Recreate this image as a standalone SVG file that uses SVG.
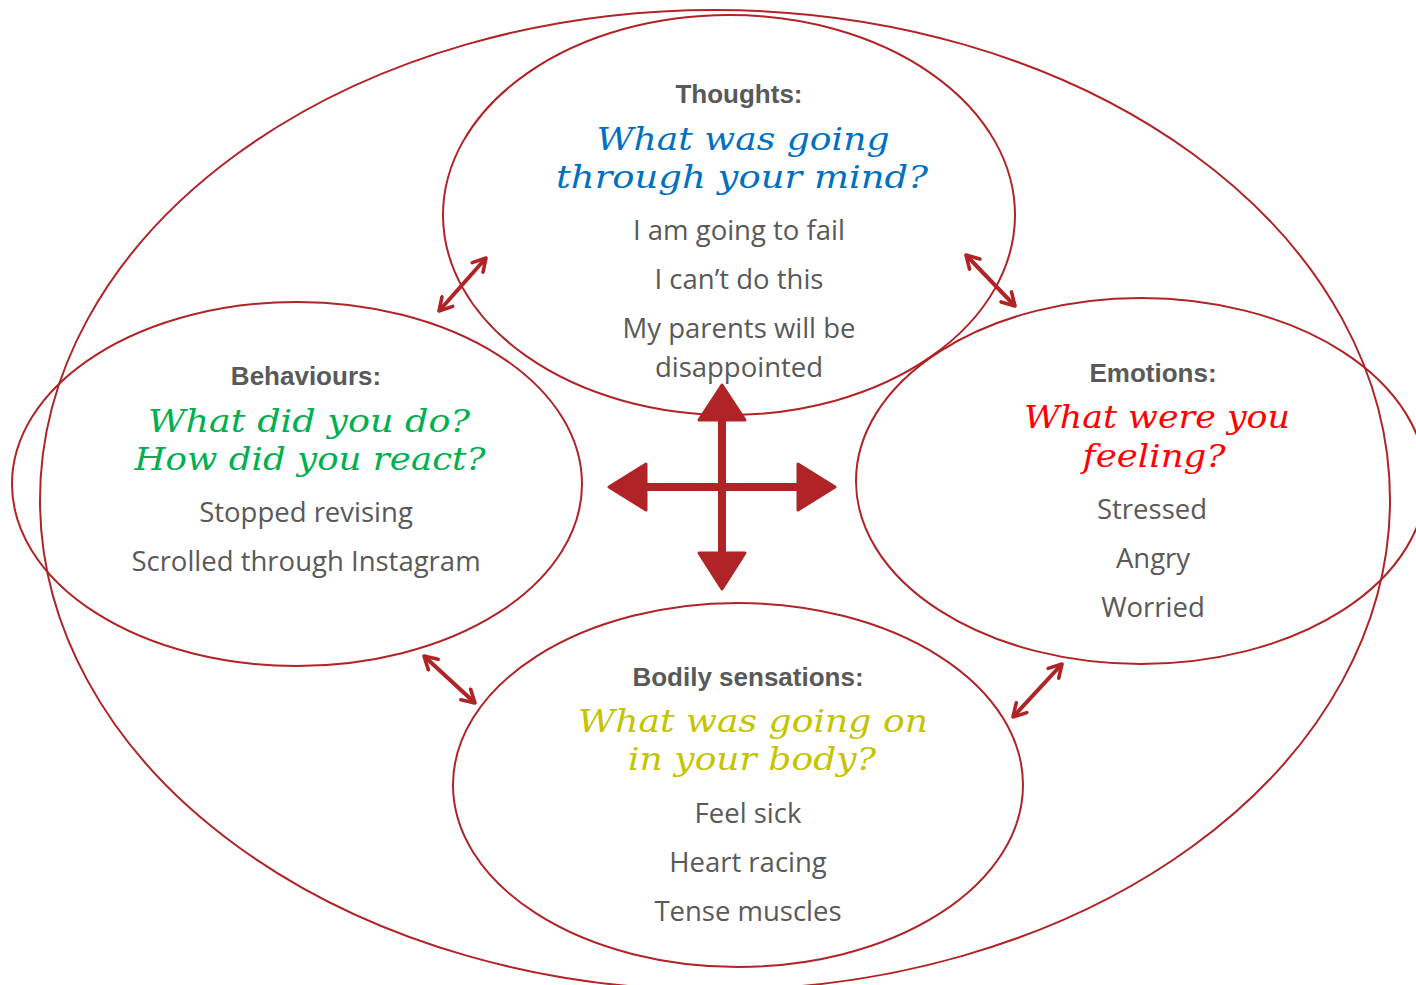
<svg xmlns="http://www.w3.org/2000/svg" width="1416" height="985" viewBox="0 0 1416 985">
<style>
.ring{fill:none;stroke:#B02326;stroke-width:2}
.hd{font-family:"Liberation Sans",Arial,sans-serif;font-weight:bold;font-size:26px;fill:#595959;text-anchor:middle}
.sc{font-family:"DejaVu Serif","Liberation Serif",serif;font-style:italic;font-size:31px;text-anchor:middle}
.tx{font-family:"Open Sans","Liberation Sans",sans-serif;font-size:27.5px;fill:#595959;text-anchor:middle}
.dbl{stroke:#B02326;stroke-width:4;fill:none;marker-start:url(#op);marker-end:url(#op)}
</style>
<defs>
<marker id="op" viewBox="0 0 10 10" refX="9" refY="5" markerWidth="4.5" markerHeight="4.5" orient="auto-start-reverse" markerUnits="strokeWidth">
<polyline points="2,1 9,5 2,9" fill="none" stroke="#B02326" stroke-width="2" stroke-linecap="round" stroke-linejoin="round"/>
</marker>
</defs>
<rect width="1416" height="985" fill="#fff"/>
<g id="outer"><ellipse class="ring" cx="715" cy="500" rx="675" ry="490"/></g>
<g id="thoughts">
<ellipse class="ring" cx="729" cy="215" rx="286" ry="200"/>
<text class="hd" x="739" y="103">Thoughts:</text>
<text class="sc" x="743" y="150" fill="#0070C0" textLength="293" lengthAdjust="spacingAndGlyphs">What was going</text>
<text class="sc" x="742" y="188" fill="#0070C0" textLength="372" lengthAdjust="spacingAndGlyphs">through your mind?</text>
<text class="tx" x="739" y="240">I am going to fail</text>
<text class="tx" x="739" y="289">I can’t do this</text>
<text class="tx" x="739" y="338">My parents will be</text>
<text class="tx" x="739" y="377">disappointed</text>
</g>
<g id="behaviours">
<ellipse class="ring" cx="297" cy="484" rx="285" ry="182"/>
<text class="hd" x="306" y="385">Behaviours:</text>
<text class="sc" x="309" y="432" fill="#00B050" textLength="322" lengthAdjust="spacingAndGlyphs">What did you do?</text>
<text class="sc" x="310" y="470" fill="#00B050" textLength="351" lengthAdjust="spacingAndGlyphs">How did you react?</text>
<text class="tx" x="306" y="522">Stopped revising</text>
<text class="tx" x="306" y="571">Scrolled through Instagram</text>
</g>
<g id="emotions">
<ellipse class="ring" cx="1141" cy="481" rx="285" ry="183"/>
<text class="hd" x="1153" y="382">Emotions:</text>
<text class="sc" x="1157" y="428" fill="#FF0000" textLength="266" lengthAdjust="spacingAndGlyphs">What were you</text>
<text class="sc" x="1154" y="467" fill="#FF0000" textLength="143" lengthAdjust="spacingAndGlyphs">feeling?</text>
<text class="tx" x="1152" y="519">Stressed</text>
<text class="tx" x="1153" y="568">Angry</text>
<text class="tx" x="1153" y="617">Worried</text>
</g>
<g id="bodily">
<ellipse class="ring" cx="738" cy="785" rx="285" ry="182"/>
<text class="hd" x="748" y="686">Bodily sensations:</text>
<text class="sc" x="753" y="732" fill="#C4C400" textLength="350" lengthAdjust="spacingAndGlyphs">What was going on</text>
<text class="sc" x="752" y="770" fill="#C4C400" textLength="248" lengthAdjust="spacingAndGlyphs">in your body?</text>
<text class="tx" x="748" y="823">Feel sick</text>
<text class="tx" x="748" y="872">Heart racing</text>
<text class="tx" x="748" y="921">Tense muscles</text>
</g>
<g id="connectors">
<g id="cross" fill="#B02326" stroke="#B02326" stroke-linejoin="round">
<line x1="722" y1="415" x2="722" y2="560" stroke-width="8"/>
<line x1="640" y1="487" x2="805" y2="487" stroke-width="8"/>
<polygon points="722,385 745,420 699,420" stroke-width="3"/>
<polygon points="722,589 745,553 699,553" stroke-width="3"/>
<polygon points="609,487 646,464 646,510" stroke-width="3"/>
<polygon points="835,487 798,464 798,510" stroke-width="3"/>
</g>
<line class="dbl" x1="439" y1="311" x2="486" y2="258"/>
<line class="dbl" x1="966" y1="255" x2="1015" y2="306"/>
<line class="dbl" x1="424" y1="656" x2="475" y2="703"/>
<line class="dbl" x1="1062" y1="664" x2="1013" y2="717"/>
</g>
</svg>
